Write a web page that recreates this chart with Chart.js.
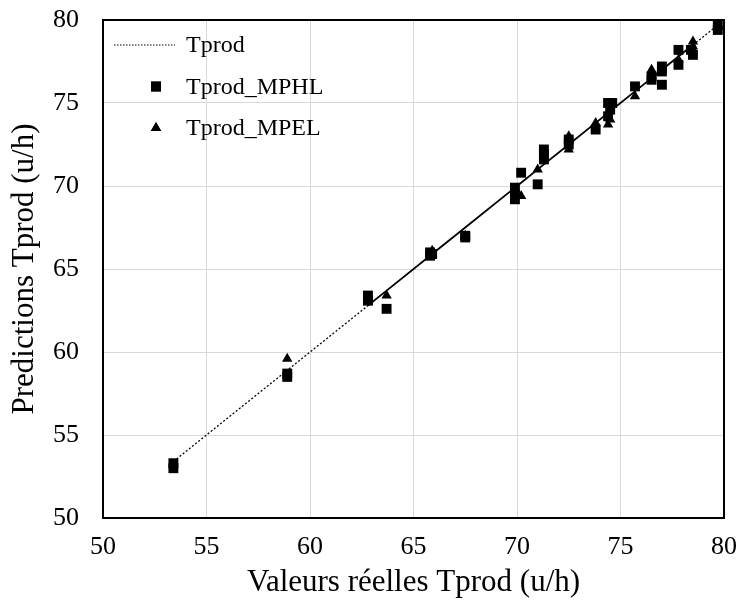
<!DOCTYPE html>
<html>
<head>
<meta charset="utf-8">
<script src="https://cdn.jsdelivr.net/npm/chart.js@4"></script>
<style>
html,body{margin:0;padding:0;background:#fff;}
#wrap{width:742px;height:609px;}
</style>
</head>
<body>
<div id="wrap"><canvas id="c" width="742" height="609"></canvas></div>
<script>
// ---- data ----
const seriesNames = ["Tprod", "Tprod_MPHL", "Tprod_MPEL"];
const xTicks = [50, 55, 60, 65, 70, 75, 80];
const yTicks = [50, 55, 60, 65, 70, 75, 80];

// actual Tprod values (line y = x)
const tprodReal = [53.4, 58.9, 62.8, 63.7, 65.8, 65.9, 67.5, 69.9, 70.2, 71.0, 71.3, 72.5, 73.8, 74.4, 74.5, 75.7, 76.5, 77.0, 77.8, 78.4, 78.5, 79.7];

const mphlReal = [53.4, 53.4, 58.9, 58.9, 62.8, 62.8, 63.7, 65.8, 65.9, 65.8, 67.5, 67.5, 69.9, 69.9, 69.9, 70.2, 71.0, 71.3, 71.3, 71.3, 72.5, 72.5, 73.8, 74.4, 74.6, 74.5, 74.4, 75.7, 76.5, 76.5, 77.0, 77.0, 77.0, 77.8, 77.8, 78.4, 78.5, 79.7, 79.7];
const mphlPred = [53.3, 53.0, 58.7, 58.5, 63.4, 63.1, 62.6, 65.8, 65.9, 66.0, 67.0, 66.9, 69.9, 69.5, 69.2, 70.8, 70.1, 72.2, 71.9, 71.6, 72.8, 72.5, 73.4, 75.0, 75.0, 74.6, 74.2, 76.0, 76.6, 76.4, 77.2, 76.9, 76.1, 78.2, 77.3, 78.2, 77.9, 79.7, 79.4];

const mpelReal = [53.4, 58.9, 62.8, 63.7, 65.9, 67.5, 69.9, 70.2, 71.0, 71.3, 72.5, 72.5, 73.8, 74.4, 74.5, 75.7, 76.5, 77.0, 77.8, 78.5, 78.5, 79.7];
const mpelPred = [53.2, 59.6, 63.0, 63.4, 66.1, 67.0, 69.6, 69.4, 71.0, 71.7, 73.0, 72.2, 73.8, 73.7, 74.0, 75.4, 77.0, 77.0, 77.6, 78.4, 78.7, 79.6];

const toPts = (xs, ys) => xs.map((x, i) => ({x: x, y: ys[i]}));

const SERIF = "'Liberation Serif', 'Times New Roman', serif";

const framePlugin = {
  id: 'frame',
  afterDatasetsDraw(chart) {
    const {ctx, chartArea: a} = chart;
    ctx.save();
    ctx.strokeStyle = '#000';
    ctx.lineWidth = 2;
    ctx.strokeRect(a.left, a.top, a.right - a.left, a.bottom - a.top);
    ctx.restore();
  }
};

const legendPlugin = {
  id: 'inlegend',
  afterDraw(chart) {
    const {ctx} = chart;
    const ds = chart.data.datasets;
    const textX = 186, y0 = 45, gap = 41.5;
    ctx.save();
    ctx.font = "24px " + SERIF;
    ctx.fillStyle = '#000';
    ctx.textBaseline = 'middle';
    ctx.textAlign = 'left';
    ds.forEach((d, i) => {
      const y = y0 + i * gap;
      if (d.showLine) {
        ctx.beginPath();
        ctx.setLineDash([1.5, 1.5]);
        ctx.lineWidth = 1;
        ctx.strokeStyle = '#000';
        ctx.moveTo(114, y);
        ctx.lineTo(175, y);
        ctx.stroke();
        ctx.setLineDash([]);
      } else {
        Chart.helpers.drawPoint(ctx, {pointStyle: d.pointStyle, radius: d.pointRadius, borderWidth: 0}, 156, y);
        ctx.fillStyle = '#000';
        ctx.fill();
      }
      ctx.fillText(d.label, textX, y + 1);
    });
    ctx.restore();
  }
};

new Chart(document.getElementById('c'), {
  type: 'scatter',
  data: {
    datasets: [
      {
        label: seriesNames[0],
        data: toPts(tprodReal, tprodReal),
        showLine: true,
        borderColor: '#000',
        borderWidth: 1.6,
        pointRadius: 0,
        fill: false,
        segment: {
          borderDash: c => (c.p0.parsed.x < 62 || c.p1.parsed.x > 79) ? [2, 2] : undefined,
          borderWidth: c => (c.p0.parsed.x < 62 || c.p1.parsed.x > 79) ? 1.3 : 1.8
        },
        order: 3
      },
      {
        label: seriesNames[1],
        data: toPts(mphlReal, mphlPred),
        pointStyle: 'rect',
        pointRadius: 7,
        pointHoverRadius: 7,
        backgroundColor: '#000',
        borderColor: '#000',
        borderWidth: 0,
        order: 2
      },
      {
        label: seriesNames[2],
        data: toPts(mpelReal, mpelPred),
        pointStyle: 'triangle',
        pointRadius: 6,
        pointHoverRadius: 6,
        backgroundColor: '#000',
        borderColor: '#000',
        borderWidth: 0,
        order: 1
      }
    ]
  },
  options: {
    responsive: false,
    animation: false,
    layout: {padding: {top: 20, right: 18, bottom: 0, left: 0}},
    plugins: {legend: {display: false}, tooltip: {enabled: false}},
    scales: {
      x: {
        type: 'linear',
        min: xTicks[0], max: xTicks[xTicks.length - 1],
        afterBuildTicks: s => { s.ticks = xTicks.map(v => ({value: v})); },
        afterFit: s => { s.height = 91; s.paddingLeft = 0; s.paddingRight = 0; },
        grid: {color: '#d9d9d9', lineWidth: 1, drawTicks: false},
        border: {display: false},
        ticks: {color: '#000', font: {family: SERIF, size: 26}, padding: 14, maxRotation: 0},
        title: {display: true, text: 'Valeurs réelles Tprod (u/h)', color: '#000',
                font: {family: SERIF, size: 31}, padding: {top: 0, bottom: 8}}
      },
      y: {
        type: 'linear',
        min: yTicks[0], max: yTicks[yTicks.length - 1],
        afterBuildTicks: s => { s.ticks = yTicks.map(v => ({value: v})); },
        afterFit: s => { s.width = 103; s.paddingTop = 0; s.paddingBottom = 0; },
        grid: {color: '#d9d9d9', lineWidth: 1, drawTicks: false},
        border: {display: false},
        ticks: {color: '#000', font: {family: SERIF, size: 26}, padding: 24},
        title: {display: true, text: 'Predictions Tprod (u/h)', color: '#000',
                font: {family: SERIF, size: 31}, padding: {top: 6, bottom: 0}}
      }
    }
  },
  plugins: [framePlugin, legendPlugin]
});
</script>
</body>
</html>
